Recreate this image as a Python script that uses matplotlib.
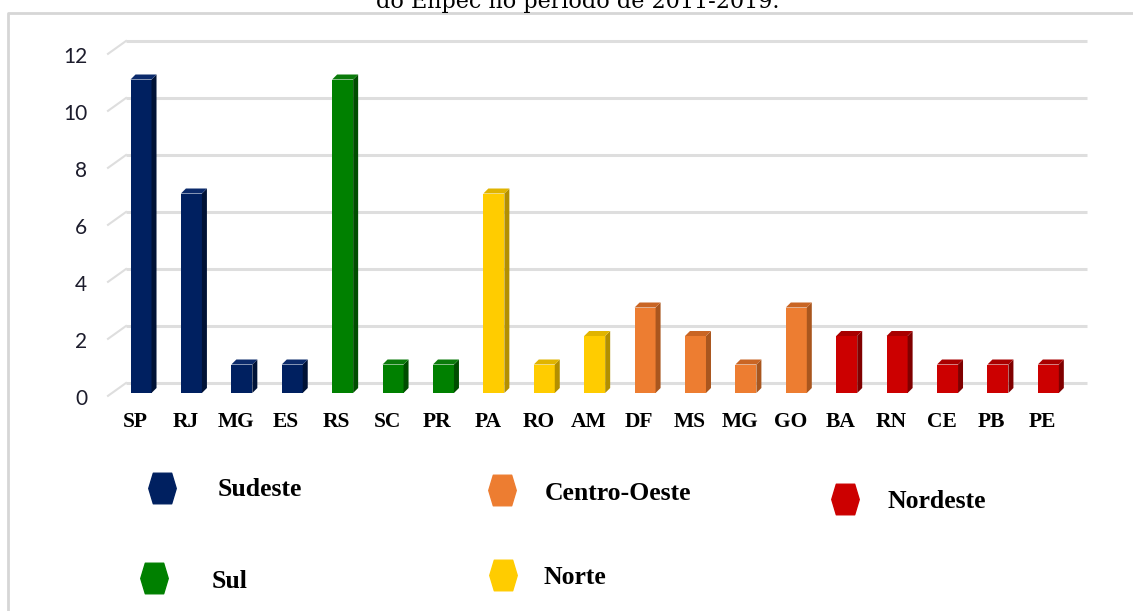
import matplotlib.pyplot as plt
from matplotlib.patches import Polygon
from matplotlib.lines import Line2D
from matplotlib.path import Path
import matplotlib.transforms as mtransforms

# data
states = ["SP", "RJ", "MG", "ES", "RS", "SC", "PR", "PA", "RO", "AM",
          "DF", "MS", "MG", "GO", "BA", "RN", "CE", "PB", "PE"]
counts = [11, 7, 1, 1, 11, 1, 1, 7, 1, 2, 3, 2, 1, 3, 2, 2, 1, 1, 1]
state_region = ["Sudeste"] * 4 + ["Sul"] * 3 + ["Norte"] * 3 + \
               ["Centro-Oeste"] * 4 + ["Nordeste"] * 5
regions = ["Sudeste", "Centro-Oeste", "Nordeste", "Sul", "Norte"]
yticks = [0, 2, 4, 6, 8, 10, 12]
title_tail = "do Enpec no período de 2011-2019."

front = {"Sudeste": "#002060", "Sul": "#008000", "Norte": "#FFCC00",
         "Centro-Oeste": "#ED7D31", "Nordeste": "#CC0000"}
side = {"Sudeste": "#001236", "Sul": "#004d00", "Norte": "#B38F00",
        "Centro-Oeste": "#A9561E", "Nordeste": "#800000"}
top = {"Sudeste": "#0b2a6b", "Sul": "#0a7a0a", "Norte": "#E0B400",
       "Centro-Oeste": "#C96524", "Nordeste": "#A80000"}

W, H = 1133, 611
fig = plt.figure(figsize=(W / 100, H / 100), dpi=100)
pos = [108 / W, (H - 393) / H, (1069 - 108) / W, (393 - 51) / H]
ax = fig.add_axes(pos)
xlim = (-0.655, 18.41)
ylim = (0, 12)
ax.set_xlim(*xlim)
ax.set_ylim(*ylim)
for s in ax.spines.values():
    s.set_visible(False)

# pixel -> data scale for the fake 3D depth
sx = pos[2] * W / (xlim[1] - xlim[0])
sy = pos[3] * H / (ylim[1] - ylim[0])

# back wall gridlines
gdx, gdy = 18 / sx, 10 / sy
for k in yticks:
    ax.plot([xlim[0] + gdx, xlim[1] + gdx], [k + gdy, k + gdy],
            color="#dedede", lw=2.2, zorder=1, clip_on=False,
            solid_capstyle="butt")
    ax.plot([xlim[0], xlim[0] + gdx], [k - 0.1, k + gdy],
            color="#dedede", lw=1.5, zorder=1, clip_on=False)

# bars with side and top faces
bw = 21 / sx
bdx, bdy = 5 / sx, 5 / sy
xs = list(range(len(states)))
for x, v, r in zip(xs, counts, state_region):
    ax.bar(x, v, width=bw, color=front[r], zorder=3)
    xr = x + bw / 2
    ax.add_patch(Polygon([(xr, 0), (xr + bdx, bdy), (xr + bdx, v + bdy), (xr, v)],
                         closed=True, color=side[r], zorder=3, lw=0))
    ax.add_patch(Polygon([(x - bw / 2, v), (xr, v), (xr + bdx, v + bdy),
                          (x - bw / 2 + bdx, v + bdy)],
                         closed=True, color=top[r], zorder=3, lw=0))

ax.set_yticks(yticks)
ax.set_yticklabels([str(t) for t in yticks], fontsize=15, family="Lato",
                   color="#1c1c2c")
ax.set_xticks(xs)
ax.set_xticklabels(states, fontsize=15.5, family="Liberation Serif",
                   fontweight="bold")
ax.tick_params(axis="y", length=0, pad=15)
ax.tick_params(axis="x", length=0, pad=14)
yoff = mtransforms.ScaledTranslation(0, -4 / 100, fig.dpi_scale_trans)
for lab in ax.get_yticklabels():
    lab.set_transform(lab.get_transform() + yoff)
xoff = mtransforms.ScaledTranslation(-6 / 100, 0, fig.dpi_scale_trans)
for lab in ax.get_xticklabels():
    lab.set_transform(lab.get_transform() + xoff)

# legend (manual placement), tall hexagon markers
hexmark = Path([(-0.45, 0), (-0.3, 0.5), (0.3, 0.5), (0.45, 0),
                (0.3, -0.5), (-0.3, -0.5), (-0.45, 0)], closed=True)
marker_xy = {"Sudeste": (162, 488), "Centro-Oeste": (502, 490),
             "Nordeste": (845, 499), "Sul": (154, 578), "Norte": (503, 575)}
text_xy = {"Sudeste": (218, 490), "Centro-Oeste": (545, 493),
           "Nordeste": (888, 502), "Sul": (212, 582), "Norte": (543, 578)}
for r in regions:
    mx, my = marker_xy[r]
    fig.add_artist(Line2D([mx / W], [1 - my / H], marker=hexmark, markersize=22,
                          color=front[r], markeredgecolor=front[r],
                          transform=fig.transFigure))
    tx, ty = text_xy[r]
    fig.text(tx / W, 1 - ty / H, r, fontsize=18.5, family="Liberation Serif",
             fontweight="bold", ha="left", va="center")

# frame of the chart area
fig.add_artist(Line2D([8 / W, 8 / W, 1], [0, 1 - 13 / H, 1 - 13 / H],
                      color="#d6d6d6", lw=2, transform=fig.transFigure))

# title (cut off at the top, as in the source)
fig.text(578 / W, 1 - 8 / H, title_tail, fontsize=16,
         family="DejaVu Serif", ha="center", va="baseline")

fig.savefig("out.png", dpi=100)
